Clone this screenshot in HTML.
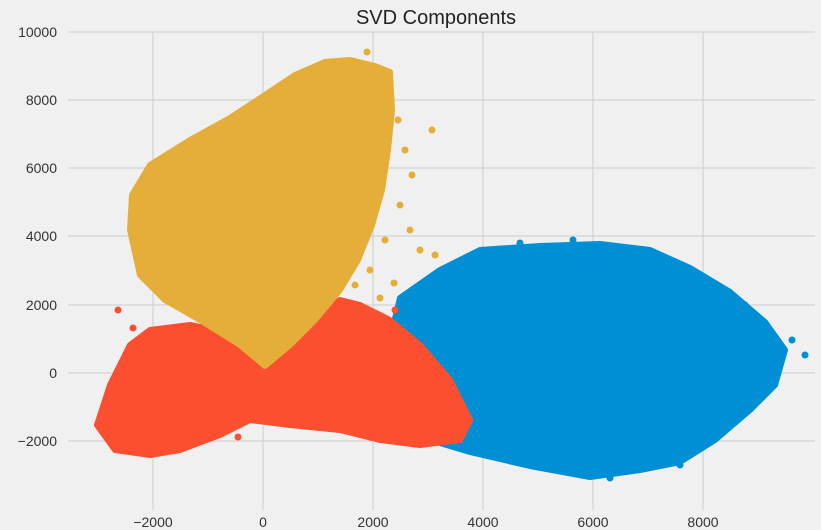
<!DOCTYPE html>
<html><head><meta charset="utf-8"><style>
html,body{margin:0;padding:0;background:#f0f0f0;}
svg{display:block;font-family:"Liberation Sans",sans-serif;}
</style></head><body>
<svg width="821" height="530" viewBox="0 0 821 530" xmlns="http://www.w3.org/2000/svg">
<rect width="821" height="530" fill="#f0f0f0"/>
<g stroke="#cbcbcb" stroke-width="1">
<line x1="153" y1="32" x2="153" y2="510"/><line x1="263" y1="32" x2="263" y2="510"/>
<line x1="373" y1="32" x2="373" y2="510"/><line x1="483" y1="32" x2="483" y2="510"/>
<line x1="593" y1="32" x2="593" y2="510"/><line x1="703" y1="32" x2="703" y2="510"/>
<line x1="68" y1="32" x2="815" y2="32"/><line x1="68" y1="100" x2="815" y2="100"/>
<line x1="68" y1="168" x2="815" y2="168"/><line x1="68" y1="236" x2="815" y2="236"/>
<line x1="68" y1="305" x2="815" y2="305"/><line x1="68" y1="373" x2="815" y2="373"/>
<line x1="68" y1="441" x2="815" y2="441"/>
</g>
<g fill="#008fd5" stroke="#008fd5" stroke-width="6" stroke-linejoin="round">
<polygon points="400,298 440,270 480,250 540,246 600,244 650,250 690,268 730,292 765,322 785,350 775,385 750,410 715,440 680,462 640,470 590,477 530,466 470,452 420,437 395,420 385,360"/>
</g>
<g fill="#008fd5">
<circle cx="778" cy="356" r="3.5"/><circle cx="765" cy="325" r="3.5"/><circle cx="758" cy="385" r="3.5"/><circle cx="792" cy="340" r="3.5"/><circle cx="680" cy="465" r="3.5"/><circle cx="573" cy="240" r="3.5"/><circle cx="520" cy="243" r="3.5"/><circle cx="745" cy="305" r="3.5"/><circle cx="805" cy="355" r="3.5"/><circle cx="770" cy="375" r="3.5"/><circle cx="610" cy="478" r="3.5"/>
</g>
<g fill="#fc4f30" stroke="#fc4f30" stroke-width="6" stroke-linejoin="round">
<polygon points="97,425 110,385 130,345 150,330 190,325 215,330 235,345 250,355 280,350 310,320 340,300 360,305 390,320 420,345 450,380 470,420 460,440 420,445 380,440 340,430 290,425 250,420 220,435 180,450 150,455 115,450"/>
</g>
<g fill="#fc4f30">
<circle cx="118" cy="310" r="3.5"/><circle cx="133" cy="328" r="3.5"/><circle cx="395" cy="310" r="3.5"/><circle cx="238" cy="437" r="3.5"/><circle cx="330" cy="295" r="3.5"/>
</g>
<g fill="#e5ae38" stroke="#e5ae38" stroke-width="6" stroke-linejoin="round">
<polygon points="265,366 240,345 200,320 165,300 140,275 130,230 132,195 150,165 190,140 230,118 265,95 295,75 325,62 350,60 375,66 390,72 392,110 388,150 382,190 372,225 358,260 340,290 315,320 290,345"/>
</g>
<g fill="#e5ae38">
<circle cx="432" cy="130" r="3.5"/><circle cx="367" cy="52" r="3.5"/><circle cx="420" cy="250" r="3.5"/><circle cx="380" cy="298" r="3.5"/><circle cx="394" cy="283" r="3.5"/><circle cx="435" cy="255" r="3.5"/><circle cx="410" cy="230" r="3.5"/><circle cx="405" cy="150" r="3.5"/><circle cx="412" cy="175" r="3.5"/><circle cx="400" cy="205" r="3.5"/><circle cx="398" cy="120" r="3.5"/><circle cx="385" cy="240" r="3.5"/><circle cx="370" cy="270" r="3.5"/><circle cx="355" cy="285" r="3.5"/>
</g>
<text x="436" y="24" font-size="20" text-anchor="middle" fill="#222">SVD Components</text>
<g font-size="14" fill="#333" text-anchor="middle">
<text x="153" y="527">−2000</text><text x="263" y="527">0</text><text x="373" y="527">2000</text>
<text x="483" y="527">4000</text><text x="593" y="527">6000</text><text x="703" y="527">8000</text>
</g>
<g font-size="14" fill="#333" text-anchor="end">
<text x="57" y="37">10000</text><text x="57" y="105">8000</text><text x="57" y="173">6000</text>
<text x="57" y="241">4000</text><text x="57" y="310">2000</text><text x="57" y="378">0</text>
<text x="57" y="446">−2000</text>
</g>
</svg>
</body></html>
